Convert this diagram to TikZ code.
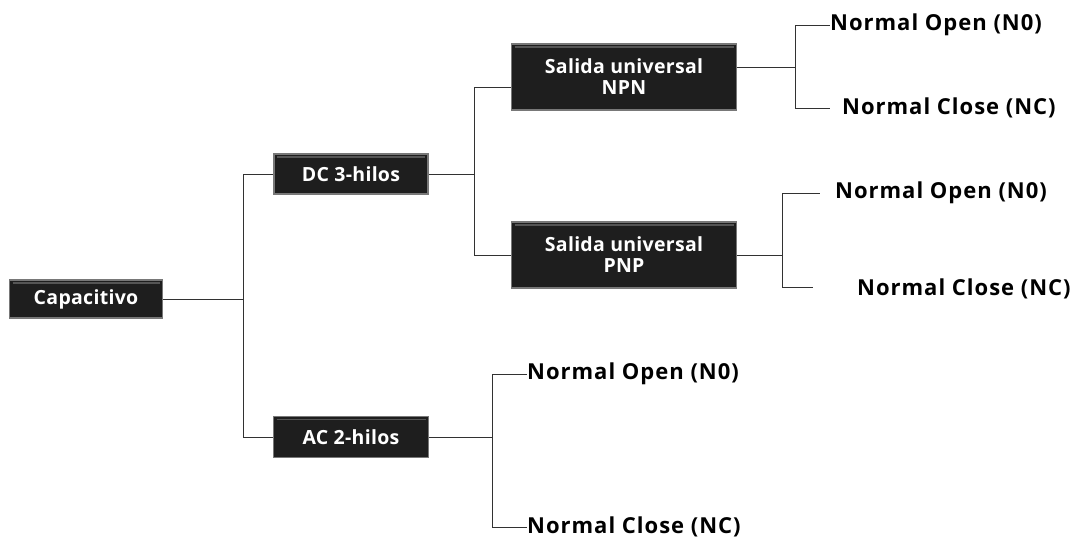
\documentclass[tikz,border=0pt]{standalone}
\usepackage{fontspec}
\setmainfont{Open Sans}
\definecolor{boxfill}{RGB}{30,30,30}
\definecolor{boxedge}{RGB}{120,120,120}
\definecolor{bevel}{RGB}{85,85,85}
\definecolor{linec}{RGB}{50,50,50}
\begin{document}
\begin{tikzpicture}[x=1pt,y=-1pt,
  box/.style={fill=boxfill,draw=boxedge,line width=1.2pt,text=white,
    font=\fontsize{19.5}{21}\selectfont\bfseries\addfontfeature{LetterSpace=1.5},align=center,inner sep=0pt,
    path picture={\draw[bevel,line width=1.5pt]
      ([shift={(3pt,-3pt)}]path picture bounding box.north west) --
      ([shift={(-3pt,-3pt)}]path picture bounding box.north east);}},
  leaf/.style={anchor=west,inner sep=0pt,font=\fontsize{22}{24}\selectfont\bfseries\addfontfeature{LetterSpace=4.5}},
  conn/.style={draw=linec,line width=1pt}]
\useasboundingbox[fill=white] (0,0) rectangle (1083,542);
\node[box,minimum width=153pt,minimum height=38pt] (cap) at (86,299) {Capacitivo};
\node[box,minimum width=154pt,minimum height=40pt] (dc) at (351,174) {DC 3-hilos};
\node[box,minimum width=155pt,minimum height=41pt] (ac) at (351,437) {AC 2-hilos};
\node[box,minimum width=225pt,minimum height=66pt] (npn) at (624,77) {Salida universal\\NPN};
\node[box,minimum width=225pt,minimum height=66pt] (pnp) at (624,255) {Salida universal\\PNP};
\node[leaf] (no1) at (830,25) {Normal Open (N0)};
\node[leaf] (nc1) at (842,108) {Normal Close (NC)};
\node[leaf] (no2) at (835,193) {Normal Open (N0)};
\node[leaf] (nc2) at (857,289) {Normal Close (NC)};
\node[leaf] (no3) at (527,374) {Normal Open (N0)};
\node[leaf] (nc3) at (527,527) {Normal Close (NC)};
\coordinate (j1) at (243,299);
\coordinate (j2) at (474,174);
\coordinate (j3) at (795,67);
\coordinate (j4) at (782,255);
\coordinate (j5) at (492,437);
\coordinate (e1) at (830,108);
\coordinate (e2) at (820,193);
\coordinate (e3) at (813,287);
\draw[conn] (cap.east) -- (j1);
\draw[conn] (j1) |- (dc.west);
\draw[conn] (j1) |- (ac.west);
\draw[conn] (dc.east) -- (j2);
\draw[conn] (j2) |- ([yshift=-10pt]npn.west);
\draw[conn] (j2) |- (pnp.west);
\draw[conn] ([yshift=10pt]npn.east) -- (j3);
\draw[conn] (j3) |- (no1.west);
\draw[conn] (j3) |- (e1);
\draw[conn] (pnp.east) -- (j4);
\draw[conn] (j4) |- (e2);
\draw[conn] (j4) |- (e3);
\draw[conn] (ac.east) -- (j5);
\draw[conn] (j5) |- (no3.west);
\draw[conn] (j5) |- (nc3.west);
\end{tikzpicture}
\end{document}
